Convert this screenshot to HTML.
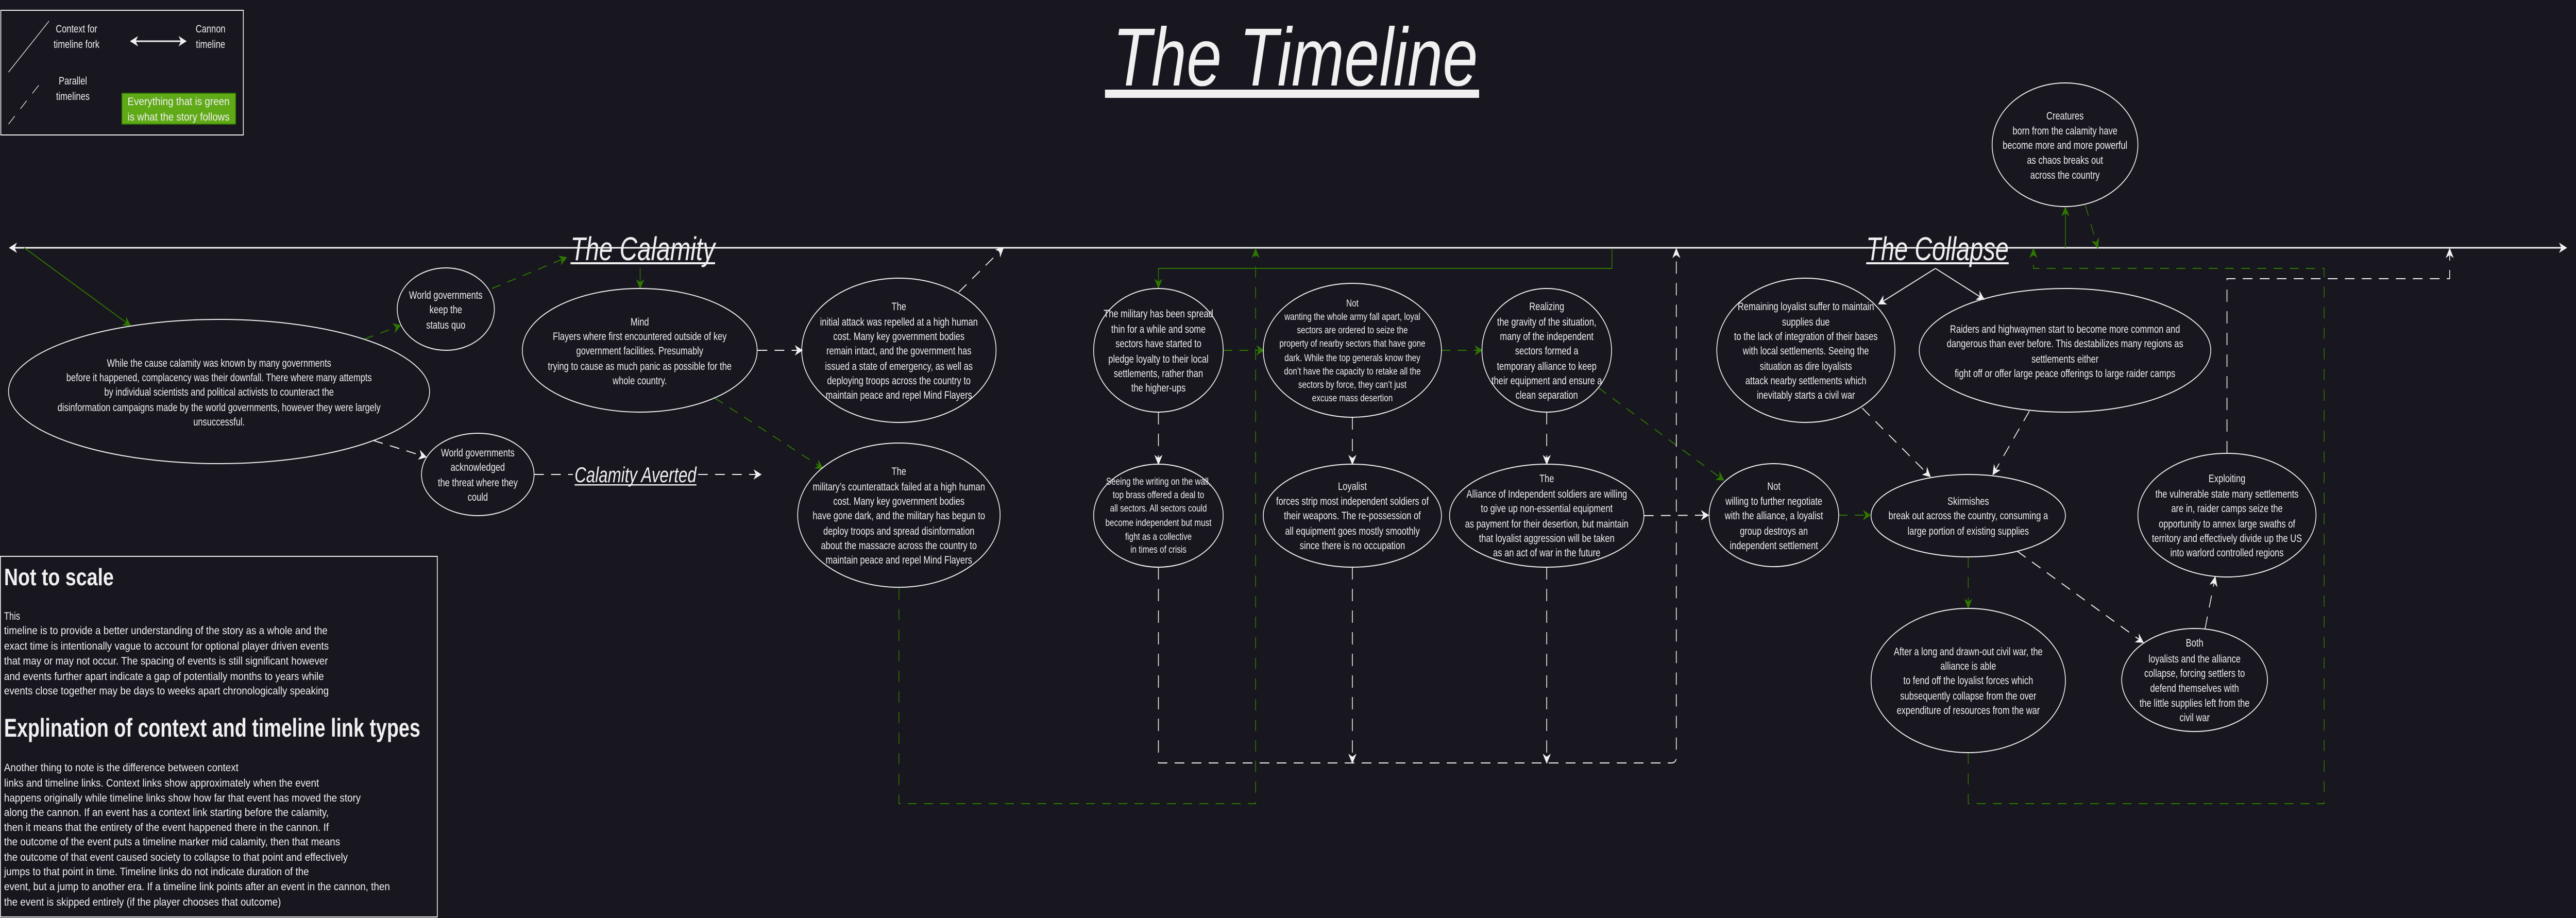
<!DOCTYPE html>
<html><head><meta charset="utf-8"><style>
html,body{margin:0;padding:0;background:#18161f;width:100%;height:100%;overflow:hidden;}
svg{display:block;width:100vw;height:100vh;}
text{font-family:"Liberation Sans",sans-serif;fill:#f0f0f0;}
.t{font-size:21px;text-anchor:middle;}
.s{font-size:19.5px;text-anchor:middle;}
</style></head><body>
<svg viewBox="0 0 6362 1782" preserveAspectRatio="none" xmlns="http://www.w3.org/2000/svg">
<defs>
<marker id="aw" viewBox="0 0 10 10" refX="9" refY="5" markerUnits="userSpaceOnUse" markerWidth="20" markerHeight="20" orient="auto"><path d="M0,0 L10,5 L0,10 L3,5 z" fill="#f0f0f0"/></marker>
<marker id="ag" viewBox="0 0 10 10" refX="9" refY="5" markerUnits="userSpaceOnUse" markerWidth="20" markerHeight="20" orient="auto"><path d="M0,0 L10,5 L0,10 L3,5 z" fill="#2d7600"/></marker>
<marker id="aws" viewBox="0 0 10 10" refX="1" refY="5" markerUnits="userSpaceOnUse" markerWidth="20" markerHeight="20" orient="auto"><path d="M10,0 L0,5 L10,10 L7,5 z" fill="#f0f0f0"/></marker>
</defs>
<rect width="6362" height="1782" fill="#18161f"/>

<!-- Legend -->
<rect x="2" y="20" width="599" height="242" fill="none" stroke="#f0f0f0" stroke-width="2"/>
<line x1="21" y1="140" x2="121" y2="41" stroke="#f0f0f0" stroke-width="1.5"/>
<text x="189" y="63" class="t" font-size="22">Context for</text>
<text x="189" y="93" class="t">timeline fork</text>
<line x1="323" y1="80" x2="459" y2="80" stroke="#f0f0f0" stroke-width="3" marker-end="url(#aw)" marker-start="url(#aws)"/>
<text x="520" y="63" class="t">Cannon</text>
<text x="520" y="93" class="t">timeline</text>
<line x1="21" y1="241" x2="105" y2="156" stroke="#f0f0f0" stroke-width="1.5" stroke-dasharray="22 20"/>
<text x="180" y="164" class="t">Parallel</text>
<text x="180" y="194" class="t">timelines</text>
<rect x="301" y="181" width="281" height="60" fill="#60a917" stroke="#2d7600" stroke-width="2"/>
<text x="441" y="204" class="t" font-size="22" textLength="252" lengthAdjust="spacingAndGlyphs">Everything that is green</text>
<text x="441" y="234" class="t" font-size="22" textLength="252" lengthAdjust="spacingAndGlyphs">is what the story follows</text>

<!-- Title -->
<text x="2748" y="166" font-size="160" font-style="italic" textLength="902" lengthAdjust="spacingAndGlyphs">The Timeline</text>
<rect x="2729" y="174" width="924" height="16" fill="#f0f0f0"/>

<!-- Timeline -->
<line x1="24" y1="481" x2="6338" y2="481" stroke="#f0f0f0" stroke-width="3" marker-end="url(#aw)" marker-start="url(#aws)"/>
<rect x="1405" y="450" width="366" height="28" fill="#18161f"/>
<rect x="1405" y="483" width="366" height="32" fill="#18161f"/>
<text x="1409" y="505" font-size="64" font-style="italic" textLength="357" lengthAdjust="spacingAndGlyphs">The Calamity</text>
<rect x="1409" y="509" width="357" height="4" fill="#f0f0f0"/>
<rect x="4605" y="450" width="360" height="28" fill="#18161f"/>
<rect x="4605" y="483" width="360" height="32" fill="#18161f"/>
<text x="4609" y="505" font-size="64" font-style="italic" textLength="352" lengthAdjust="spacingAndGlyphs">The Collapse</text>
<rect x="4609" y="509" width="352" height="4" fill="#f0f0f0"/>

<text x="1419" y="936" font-size="42" font-style="italic" textLength="301" lengthAdjust="spacingAndGlyphs">Calamity Averted</text>
<rect x="1419" y="940" width="301" height="2.5" fill="#f0f0f0"/>

<!-- Green solid connectors -->
<g stroke="#2d7600" stroke-width="2" fill="none">
<line x1="60" y1="481" x2="322" y2="632" marker-end="url(#ag)"/>
<line x1="1581" y1="520" x2="1581" y2="560" marker-end="url(#ag)"/>
<polyline points="3981,482 3981,521 2861,521 2861,559" marker-end="url(#ag)"/>
<line x1="5101" y1="481" x2="5101" y2="402" marker-end="url(#ag)"/>
</g>
<!-- Green dashed -->
<g stroke="#2d7600" stroke-width="2" fill="none" stroke-dasharray="22 18">
<line x1="901" y1="658" x2="989" y2="632" marker-end="url(#ag)"/>
<line x1="1215" y1="560" x2="1399" y2="500" marker-end="url(#ag)"/>
<line x1="1766" y1="773" x2="2032" y2="909" marker-end="url(#ag)"/>
<polyline points="2220,1142 2220,1560 3101,1560 3101,483" marker-end="url(#ag)"/>
<line x1="3021" y1="680" x2="3121" y2="680" marker-end="url(#ag)"/>
<line x1="3560" y1="680" x2="3660" y2="680" marker-end="url(#ag)"/>
<line x1="3948" y1="753" x2="4257" y2="932" marker-end="url(#ag)"/>
<line x1="4541" y1="1000" x2="4619" y2="1000" marker-end="url(#ag)"/>
<line x1="4861" y1="1080" x2="4861" y2="1180" marker-end="url(#ag)"/>
<polyline points="4861,1461 4861,1560 5740,1560 5740,521 5022,521 5022,483" marker-end="url(#ag)"/>
<line x1="5150" y1="398" x2="5181" y2="481" marker-end="url(#ag)"/>
</g>
<!-- White solid context -->
<g stroke="#f0f0f0" stroke-width="2" fill="none">
<line x1="4780" y1="521" x2="4640" y2="590" marker-end="url(#aw)"/>
<line x1="4780" y1="521" x2="4900" y2="581" marker-end="url(#aw)"/>
</g>
<!-- White dashed -->
<g stroke="#f0f0f0" stroke-width="2" fill="none" stroke-dasharray="24 18">
<line x1="922" y1="855" x2="1052" y2="887" marker-end="url(#aw)"/>
<line x1="1319" y1="921" x2="1415" y2="921"/>
<line x1="1724" y1="921" x2="1879" y2="921" marker-end="url(#aw)"/>
<line x1="1871" y1="680" x2="1981" y2="680" marker-end="url(#aw)"/>
<line x1="2368" y1="567" x2="2478" y2="481" marker-end="url(#aw)"/>
<line x1="2861" y1="800" x2="2861" y2="901" marker-end="url(#aw)"/>
<line x1="3340" y1="810" x2="3340" y2="901" marker-end="url(#aw)"/>
<line x1="3820" y1="800" x2="3820" y2="901" marker-end="url(#aw)"/>
<path d="M2861,1101 L2861,1481 L4128,1481 Q4140,1481 4140,1469 L4140,483" marker-end="url(#aw)"/>
<line x1="3340" y1="1101" x2="3340" y2="1481" marker-end="url(#aw)"/>
<line x1="3820" y1="1101" x2="3820" y2="1481" marker-end="url(#aw)"/>
<line x1="4060" y1="1001" x2="4219" y2="1000" marker-end="url(#aw)"/>
<line x1="4599" y1="792" x2="4767" y2="925" marker-end="url(#aw)"/>
<line x1="5012" y1="798" x2="4922" y2="921" marker-end="url(#aw)"/>
<line x1="4982" y1="1070" x2="5293" y2="1247" marker-end="url(#aw)"/>
<line x1="5446" y1="1220" x2="5471" y2="1120" marker-end="url(#aw)"/>
<polyline points="5500,880 5500,541 6050,541 6050,483" marker-end="url(#aw)"/>
</g>

<!-- Ellipses -->
<g fill="none" stroke="#f0f0f0" stroke-width="2">
<ellipse cx="541" cy="760" rx="520" ry="140"/>
<ellipse cx="1101" cy="600" rx="120" ry="80"/>
<ellipse cx="1180" cy="921" rx="139" ry="80"/>
<ellipse cx="1580" cy="680" rx="290" ry="120"/>
<ellipse cx="2220" cy="680" rx="240" ry="140"/>
<ellipse cx="2220" cy="1000" rx="250" ry="140"/>
<ellipse cx="2861" cy="680" rx="160" ry="120"/>
<ellipse cx="3340" cy="680" rx="220" ry="130"/>
<ellipse cx="3820" cy="680" rx="160" ry="120"/>
<ellipse cx="2861" cy="1001" rx="160" ry="100"/>
<ellipse cx="3340" cy="1001" rx="220" ry="100"/>
<ellipse cx="3820" cy="1001" rx="240" ry="100"/>
<ellipse cx="4460" cy="680" rx="220" ry="140"/>
<ellipse cx="5100" cy="680" rx="360" ry="120"/>
<ellipse cx="4381" cy="1000" rx="160" ry="100"/>
<ellipse cx="4861" cy="1001" rx="240" ry="80"/>
<ellipse cx="4861" cy="1321" rx="240" ry="140"/>
<ellipse cx="5420" cy="1320" rx="180" ry="100"/>
<ellipse cx="5500" cy="1000" rx="220" ry="120"/>
<ellipse cx="5100" cy="281" rx="180" ry="120"/>
</g>

<!-- Ellipse texts -->
<text class="t" font-size="22"><tspan x="541" y="712">While the cause calamity was known by many governments</tspan><tspan x="541" y="740">before it happened, complacency was their downfall. There where many attempts</tspan><tspan x="541" y="768">by individual scientists and political activists to counteract the</tspan><tspan x="541" y="798">disinformation campaigns made by the world governments, however they were largely</tspan><tspan x="541" y="826">unsuccessful.</tspan></text>
<text class="t"><tspan x="1101" y="580">World governments</tspan><tspan x="1101" y="608">keep the</tspan><tspan x="1101" y="638">status quo</tspan></text>
<text class="t"><tspan x="1180" y="886">World governments</tspan><tspan x="1180" y="914">acknowledged</tspan><tspan x="1180" y="944">the threat where they</tspan><tspan x="1180" y="972">could</tspan></text>
<text class="t"><tspan x="1580" y="632">Mind</tspan><tspan x="1580" y="660">Flayers where first encountered outside of key</tspan><tspan x="1580" y="688">government facilities. Presumably</tspan><tspan x="1580" y="718">trying to cause as much panic as possible for the</tspan><tspan x="1580" y="746">whole country.</tspan></text>
<text class="t"><tspan x="2220" y="602">The</tspan><tspan x="2220" y="632">initial attack was repelled at a high human</tspan><tspan x="2220" y="660">cost. Many key government bodies</tspan><tspan x="2220" y="688">remain intact, and the government has</tspan><tspan x="2220" y="718">issued a state of emergency, as well as</tspan><tspan x="2220" y="746">deploying troops across the country to</tspan><tspan x="2220" y="774">maintain peace and repel Mind Flayers</tspan></text>
<text class="t"><tspan x="2220" y="922">The</tspan><tspan x="2220" y="952">military’s counterattack failed at a high human</tspan><tspan x="2220" y="980">cost. Many key government bodies</tspan><tspan x="2220" y="1008">have gone dark, and the military has begun to</tspan><tspan x="2220" y="1038">deploy troops and spread disinformation</tspan><tspan x="2220" y="1066">about the massacre across the country to</tspan><tspan x="2220" y="1094">maintain peace and repel Mind Flayers</tspan></text>
<text class="t"><tspan x="2861" y="616">The military has been spread</tspan><tspan x="2861" y="646">thin for a while and some</tspan><tspan x="2861" y="674">sectors have started to</tspan><tspan x="2861" y="704">pledge loyalty to their local</tspan><tspan x="2861" y="732">settlements, rather than</tspan><tspan x="2861" y="760">the higher-ups</tspan></text>
<text class="s"><tspan x="3340" y="595">Not</tspan><tspan x="3340" y="621">wanting the whole army fall apart, loyal</tspan><tspan x="3340" y="647">sectors are ordered to seize the</tspan><tspan x="3340" y="673">property of nearby sectors that have gone</tspan><tspan x="3340" y="701">dark. While the top generals know they</tspan><tspan x="3340" y="727">don’t have the capacity to retake all the</tspan><tspan x="3340" y="753">sectors by force, they can’t just</tspan><tspan x="3340" y="779">excuse mass desertion</tspan></text>
<text class="t"><tspan x="3820" y="602">Realizing</tspan><tspan x="3820" y="632">the gravity of the situation,</tspan><tspan x="3820" y="660">many of the independent</tspan><tspan x="3820" y="688">sectors formed a</tspan><tspan x="3820" y="718">temporary alliance to keep</tspan><tspan x="3820" y="746">their equipment and ensure a</tspan><tspan x="3820" y="774">clean separation</tspan></text>
<text class="s"><tspan x="2861" y="941">Seeing the writing on the wall,</tspan><tspan x="2861" y="967">top brass offered a deal to</tspan><tspan x="2861" y="993">all sectors. All sectors could</tspan><tspan x="2861" y="1021">become independent but must</tspan><tspan x="2861" y="1048">fight as a collective</tspan><tspan x="2861" y="1073">in times of crisis</tspan></text>
<text class="t"><tspan x="3340" y="951">Loyalist</tspan><tspan x="3340" y="980">forces strip most independent soldiers of</tspan><tspan x="3340" y="1008">their weapons. The re-possession of</tspan><tspan x="3340" y="1038">all equipment goes mostly smoothly</tspan><tspan x="3340" y="1066">since there is no occupation</tspan></text>
<text class="t"><tspan x="3820" y="936">The</tspan><tspan x="3820" y="966">Alliance of Independent soldiers are willing</tspan><tspan x="3820" y="994">to give up non-essential equipment</tspan><tspan x="3820" y="1024">as payment for their desertion, but maintain</tspan><tspan x="3820" y="1052">that loyalist aggression will be taken</tspan><tspan x="3820" y="1080">as an act of war in the future</tspan></text>
<text class="t"><tspan x="4460" y="602">Remaining loyalist suffer to maintain</tspan><tspan x="4460" y="632">supplies due</tspan><tspan x="4460" y="660">to the lack of integration of their bases</tspan><tspan x="4460" y="688">with local settlements. Seeing the</tspan><tspan x="4460" y="718">situation as dire loyalists</tspan><tspan x="4460" y="746">attack nearby settlements which</tspan><tspan x="4460" y="774">inevitably starts a civil war</tspan></text>
<text class="t"><tspan x="5100" y="646">Raiders and highwaymen start to become more common and</tspan><tspan x="5100" y="674">dangerous than ever before. This destabilizes many regions as</tspan><tspan x="5100" y="704">settlements either</tspan><tspan x="5100" y="732">fight off or offer large peace offerings to large raider camps</tspan></text>
<text class="t"><tspan x="4381" y="951">Not</tspan><tspan x="4381" y="980">willing to further negotiate</tspan><tspan x="4381" y="1008">with the alliance, a loyalist</tspan><tspan x="4381" y="1038">group destroys an</tspan><tspan x="4381" y="1066">independent settlement</tspan></text>
<text class="t"><tspan x="4861" y="980">Skirmishes</tspan><tspan x="4861" y="1008">break out across the country, consuming a</tspan><tspan x="4861" y="1038">large portion of existing supplies</tspan></text>
<text class="t"><tspan x="4861" y="1272">After a long and drawn-out civil war, the</tspan><tspan x="4861" y="1300">alliance is able</tspan><tspan x="4861" y="1328">to fend off the loyalist forces which</tspan><tspan x="4861" y="1358">subsequently collapse from the over</tspan><tspan x="4861" y="1386">expenditure of resources from the war</tspan></text>
<text class="t"><tspan x="5420" y="1255">Both</tspan><tspan x="5420" y="1286">loyalists and the alliance</tspan><tspan x="5420" y="1314">collapse, forcing settlers to</tspan><tspan x="5420" y="1343">defend themselves with</tspan><tspan x="5420" y="1372">the little supplies left from the</tspan><tspan x="5420" y="1400">civil war</tspan></text>
<text class="t"><tspan x="5500" y="936">Exploiting</tspan><tspan x="5500" y="966">the vulnerable state many settlements</tspan><tspan x="5500" y="994">are in, raider camps seize the</tspan><tspan x="5500" y="1024">opportunity to annex large swaths of</tspan><tspan x="5500" y="1052">territory and effectively divide up the US</tspan><tspan x="5500" y="1080">into warlord controlled regions</tspan></text>
<text class="t"><tspan x="5100" y="232">Creatures</tspan><tspan x="5100" y="261">born from the calamity have</tspan><tspan x="5100" y="289">become more and more powerful</tspan><tspan x="5100" y="318">as chaos breaks out</tspan><tspan x="5100" y="347">across the country</tspan></text>

<!-- Notes box -->
<rect x="1" y="1080" width="1079" height="700" fill="none" stroke="#f0f0f0" stroke-width="2"/>
<text x="10" y="1136" font-size="46" font-weight="bold" textLength="271" lengthAdjust="spacingAndGlyphs">Not to scale</text>
<g font-size="21">
<text x="10" y="1203">This</text>
<text x="10" y="1231" textLength="799" lengthAdjust="spacingAndGlyphs">timeline is to provide a better understanding of the story as a whole and the</text>
<text x="10" y="1261" textLength="802" lengthAdjust="spacingAndGlyphs">exact time is intentionally vague to account for optional player driven events</text>
<text x="10" y="1290" textLength="800" lengthAdjust="spacingAndGlyphs">that may or may not occur. The spacing of events is still significant however</text>
<text x="10" y="1320" textLength="790" lengthAdjust="spacingAndGlyphs">and events further apart indicate a gap of potentially months to years while</text>
<text x="10" y="1348" textLength="802" lengthAdjust="spacingAndGlyphs">events close together may be days to weeks apart chronologically speaking</text>
</g>
<text x="10" y="1430" font-size="50" font-weight="bold" textLength="1028" lengthAdjust="spacingAndGlyphs">Explination of context and timeline link types</text>
<g font-size="21">
<text x="10" y="1497" textLength="579" lengthAdjust="spacingAndGlyphs">Another thing to note is the difference between context</text>
<text x="10" y="1527" textLength="778" lengthAdjust="spacingAndGlyphs">links and timeline links. Context links show approximately when the event</text>
<text x="10" y="1556" textLength="881" lengthAdjust="spacingAndGlyphs">happens originally while timeline links show how far that event has moved the story</text>
<text x="10" y="1584" textLength="802" lengthAdjust="spacingAndGlyphs">along the cannon. If an event has a context link starting before the calamity,</text>
<text x="10" y="1613" textLength="802" lengthAdjust="spacingAndGlyphs">then it means that the entirety of the event happened there in the cannon. If</text>
<text x="10" y="1641" textLength="830" lengthAdjust="spacingAndGlyphs">the outcome of the event puts a timeline marker mid calamity, then that means</text>
<text x="10" y="1671" textLength="849" lengthAdjust="spacingAndGlyphs">the outcome of that event caused society to collapse to that point and effectively</text>
<text x="10" y="1699" textLength="753" lengthAdjust="spacingAndGlyphs">jumps to that point in time. Timeline links do not indicate duration of the</text>
<text x="10" y="1728" textLength="953" lengthAdjust="spacingAndGlyphs">event, but a jump to another era. If a timeline link points after an event in the cannon, then</text>
<text x="10" y="1758" textLength="684" lengthAdjust="spacingAndGlyphs">the event is skipped entirely (if the player chooses that outcome)</text>
</g>
</svg>
</body></html>
